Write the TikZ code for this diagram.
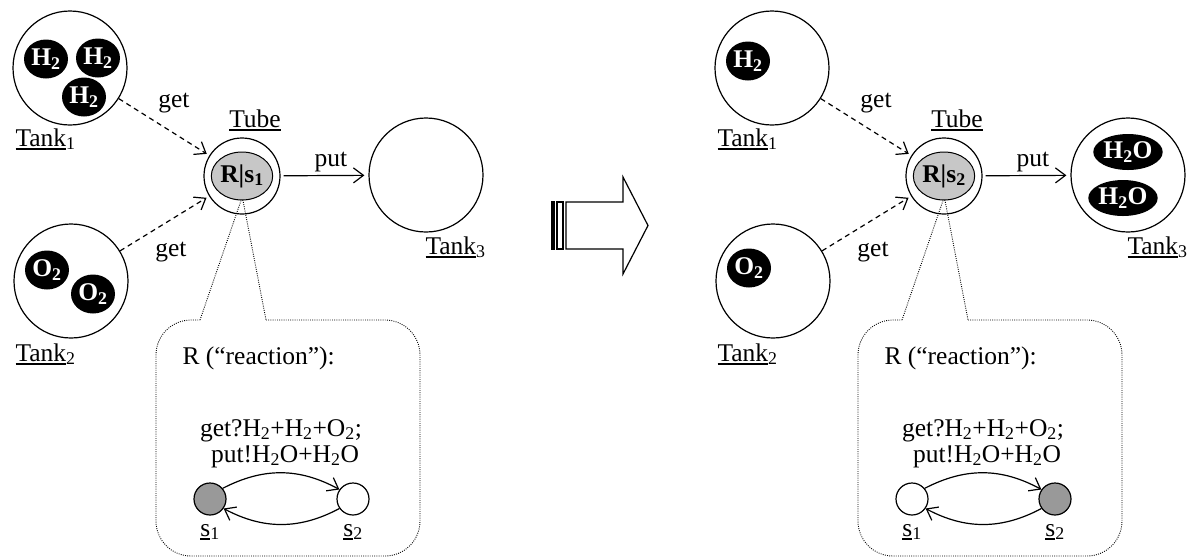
\documentclass[tikz,border=0pt]{standalone}
\usepackage{fontspec}
\setmainfont{Liberation Serif}
\usetikzlibrary{positioning,shapes.geometric,arrows.meta}
\definecolor{tubegray}{gray}{0.78}
\definecolor{stategray}{gray}{0.6}
\newcommand{\ulin}[1]{\setbox0\hbox{#1}\rlap{\rule[-3.5pt]{\wd0}{1.6pt}}\box0}

\begin{document}
\begin{tikzpicture}[
x=1pt,
y=-1pt,
every node/.style={
  font=\fontsize{25.5}{22}\selectfont
  },
tank/.style={
  draw,
  circle,
  line width=1.2pt,
  minimum size=114pt
  },
blob/.style={
  ellipse,
  fill=black,
  text=white,
  inner sep=0pt,
  minimum width=44pt,
  minimum height=39pt,
  font=\fontsize{25.5}{22}\selectfont\bfseries
  },
wideblob/.style={
  blob,
  minimum width=62pt,
  minimum height=36pt
  },
tube/.style={
  draw,
  circle,
  line width=1.2pt,
  minimum size=76pt
  },
react/.style={
  draw,
  ellipse,
  fill=tubegray,
  line width=1pt,
  inner sep=0pt,
  minimum width=58pt,
  minimum height=48pt,
  font=\fontsize{25.5}{22}\selectfont\bfseries
  },
state/.style={
  draw,
  circle,
  line width=1.2pt,
  inner sep=0pt,
  minimum size=32pt
  },
bubble/.style={
  draw,
  line width=0.9pt,
  dash pattern=on 0.9pt off 1.3pt
  },
getarrow/.style={
  ->,
  line width=1.2pt,
  dash pattern=on 5pt off 4pt
  },
>={Straight Barb[length=10pt,width=15pt]}
]
\useasboundingbox (0,0) rectangle (1189,558);

% the two states of the system
\foreach \pp/\dx/\ss/\fa/\fb in {L/0/1/stategray/white, R/702/2/white/stategray}
{
\begin{scope}[xshift=\dx pt, name prefix=\pp-]
\node[tank] (tank1) at (70,68) {};
\node[tank] (tank2) at (71,281) {};
\node[tank] (tank3) at (426,175) {};
\node[anchor=base west] (lab1) at (12,146) {\ulin{Tank}\textsubscript{1}};
\node[anchor=base west] (lab2) at (12,361) {\ulin{Tank}\textsubscript{2}};
\node[anchor=base west] (lab3) at (422,254) {\ulin{Tank}\textsubscript{3}};

\node[tube] (tube) at (242,176) {};
\node[react] (rs) at (tube.center) {R|s\textsubscript{\ss}};
\node[anchor=base] (tubelab) at (255,127) {\ulin{Tube}};

\draw[getarrow, shorten >=3pt] (tank1) -- (tube);
\draw[getarrow, shorten >=3pt] (tank2) -- (tube);
\draw[->, line width=1.2pt, shorten <=3pt, shorten >=4pt] (tube) -- (tank3);
\node[anchor=base] (get1) at (174,107) {get};
\node[anchor=base] (get2) at (171,256) {get};
\node[anchor=base] (put) at (331,166) {put};

% callout with the reaction
\coordinate (tipL) at ([xshift=-1pt]rs.south);
\coordinate (tipR) at ([xshift=1pt]rs.south);
\draw[bubble, rounded corners=35pt] (266,320) -- (420,320) -- (420,556) -- (156,556) -- (156,320) -- (200,320);
\draw[bubble] (200,320) -- (tipL) -- (tipR) -- (266,320);

\node[anchor=base west] (title) at (179,364) {R (“reaction”):};
\node[anchor=base] (getrule) at (281,436) {get?H\textsubscript{2}+H\textsubscript{2}+O\textsubscript{2};};
\node[anchor=base] (putrule) at (285,462) {put!H\textsubscript{2}O+H\textsubscript{2}O};

\node[state, fill=\fa] (s1) at (210,499) {};
\node[state, fill=\fb] (s2) at (353,499) {};
\node[below=5pt of s1] (s1lab) {\ulin{s}\textsubscript{1}};
\node[below=5pt of s2] (s2lab) {\ulin{s}\textsubscript{2}};
\draw[->, line width=1.2pt] (s1.40) to[bend left=28] (s2.145);
\draw[->, line width=1.2pt] (s2.215) to[bend left=28] (s1.-35);
\end{scope}
}

% molecules before
\node[blob] (h2a) at (46,59) {H\textsubscript{2}};
\node[blob] (h2b) at (98,58) {H\textsubscript{2}};
\node[blob] (h2c) at (84,97) {H\textsubscript{2}};
\node[blob] (o2a) at (47,270) {O\textsubscript{2}};
\node[blob] (o2b) at (93,294) {O\textsubscript{2}};

% molecules after
\node[blob] (h2d) at (748,61) {H\textsubscript{2}};
\node[blob] (o2c) at (749,268) {O\textsubscript{2}};
\node[wideblob] (h2oa) at (1128,152) {H\textsubscript{2}O};
\node[wideblob] (h2ob) at (1123,198) {H\textsubscript{2}O};

% big arrow in the middle
\draw[line width=1.2pt] (566,202) -- (623,202) -- (623,177) -- (648,225.5) -- (623,274) -- (623,249) -- (566,249) -- cycle;
\draw[line width=1.2pt] (557,202) rectangle (563,249);
\draw[line width=1.2pt] (552,202) rectangle (554,249);

\end{tikzpicture}
\end{document}
